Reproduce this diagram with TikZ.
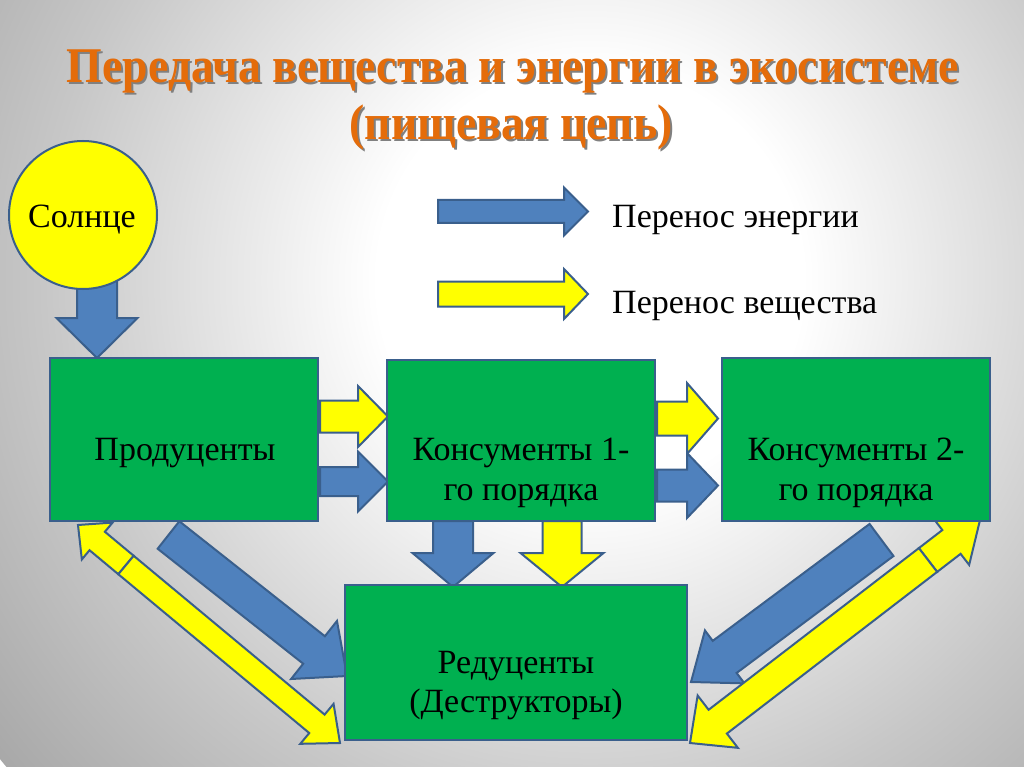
\documentclass[tikz,border=0pt]{standalone}
\usepackage{fontspec}
\setmainfont{Liberation Serif}
\usetikzlibrary{calc}
\pgfdeclarelayer{bg}
\pgfdeclarelayer{arrowlayer}
\pgfsetlayers{bg,arrowlayer,main}
\definecolor{bfill}{HTML}{4F81BD}
\definecolor{edge}{HTML}{3A5F8C}
\definecolor{yfill}{HTML}{FFFF00}
\definecolor{gfill}{HTML}{00B050}
\definecolor{torange}{HTML}{E46C0A}
\pgfdeclareradialshading{bgshade}{\pgfpoint{0bp}{0bp}}{color(0bp)=(white); color(7bp)=(white); color(18bp)=(black!22); color(32bp)=(black!46); color(50bp)=(black!62)}
% #1 style, #2 start, #3 tip, #4 shaft half width, #5 head half width, #6 head length
\newcommand\fatarrow[6]{%
  \coordinate (fa-h) at ($(#3)!#6!(#2)$);
  \draw[#1] ($(#2)!#4!90:(#3)$) -- ($(fa-h)!#4!90:(#3)$) -- ($(fa-h)!#5!90:(#3)$) -- (#3)
    -- ($(fa-h)!#5!-90:(#3)$) -- ($(fa-h)!#4!-90:(#3)$) -- ($(#2)!#4!-90:(#3)$) -- cycle;
}
\newcommand\ttltext[1]{\scalebox{0.915}[1]{#1}}
\tikzset{
  box/.style={draw=edge, fill=gfill, line width=2pt, inner sep=0pt},
  sunshape/.style={circle, draw=edge, fill=yfill, line width=2pt, inner sep=0pt, minimum size=148pt},
  lbl/.style={font=\fontsize{34}{40}\selectfont, anchor=base, inner sep=0pt, text=black},
  ttl/.style={font=\fontsize{50}{56}\selectfont\bfseries, anchor=base, inner sep=0pt},
  blue arrow/.style={fill=bfill, draw=edge, line width=2pt, line join=miter},
  yellow arrow/.style={fill=yfill, draw=edge, line width=2pt, line join=miter},
}
\begin{document}
\begin{tikzpicture}[x=1pt,y=-1pt]
\useasboundingbox (0,0) rectangle (1024,767);
\begin{pgfonlayer}{bg}
  \begin{scope}
    \clip (0,0) rectangle (1024,767);
    \shade[shading=bgshade] (590,280) circle (760pt);
  \end{scope}
\end{pgfonlayer}

% title
\node[ttl, text=black!50] (t1s) at (515,85) {\ttltext{Передача вещества и энергии в экосистеме}};
\node[ttl, text=torange] (t1) at (513,83) {\ttltext{Передача вещества и энергии в экосистеме}};
\node[ttl, text=black!50] (t2s) at (513,142) {\ttltext{(пищевая цепь)}};
\node[ttl, text=torange] (t2) at (511,140) {\ttltext{(пищевая цепь)}};

% nodes
\node[sunshape] (sun) at (83,215) {};
\node[lbl] (sunt) at (82,228) {Солнце};
\node[box, minimum width=268pt, minimum height=163pt] (prod) at (184,439.5) {};
\node[lbl] (prodt) at (185,460) {Продуценты};
\node[box, minimum width=268pt, minimum height=161pt] (cons1) at (521,440.5) {};
\node[lbl] (cons1a) at (521,460) {Консументы 1-};
\node[lbl] (cons1b) at (521,500) {го порядка};
\node[box, minimum width=268pt, minimum height=163pt] (cons2) at (856,439.5) {};
\node[lbl] (cons2a) at (856,460) {Консументы 2-};
\node[lbl] (cons2b) at (856,500) {го порядка};
\node[box, minimum width=342pt, minimum height=155pt] (red) at (516,662.5) {};
\node[lbl] (reda) at (516,673) {Редуценты};
\node[lbl] (redb) at (516,712) {(Деструкторы)};

% legend
\node[lbl, anchor=base west] (leg1) at (612,228) {Перенос энергии};
\node[lbl, anchor=base west] (leg2) at (612,313) {Перенос вещества};

% arrow end points
\coordinate (l1s) at (438,211.5); \coordinate (l1e) at (588,211.5);
\coordinate (l2s) at (438,294); \coordinate (l2e) at (588,294);
\coordinate (sa) at (97,278); \coordinate (sb) at (97,358);
\coordinate (py1) at (320,416.5); \coordinate (py2) at (388,416.5);
\coordinate (pb1) at (320,481.5); \coordinate (pb2) at (388,481.5);
\coordinate (cy1) at (657,418.5); \coordinate (cy2) at (718,418.5);
\coordinate (cb1) at (657,485.5); \coordinate (cb2) at (718,485.5);
\coordinate (db1) at (453,521); \coordinate (db2) at (453,587);
\coordinate (dy1) at (562,521); \coordinate (dy2) at (562,587);
\coordinate (lb1) at (168.5,535); \coordinate (lb2) at (347,676);
\coordinate (lyc) at (126,565); \coordinate (ly1) at (78,525); \coordinate (ly2) at (340,743);
\coordinate (rb1) at (881.5,540); \coordinate (rb2) at (691,682);
\coordinate (ryc) at (928,560); \coordinate (ry1) at (980,520); \coordinate (ry2) at (690,743);

\begin{pgfonlayer}{arrowlayer}
  \fatarrow{blue arrow}{l1s}{l1e}{11.5pt}{24pt}{24pt}
  \fatarrow{yellow arrow}{l2s}{l2e}{12.5pt}{25pt}{24pt}
  \fatarrow{blue arrow}{sa}{sb}{20pt}{40.5pt}{40pt}
  \fatarrow{yellow arrow}{py1}{py2}{16pt}{30.5pt}{30pt}
  \fatarrow{blue arrow}{pb1}{pb2}{14.5pt}{30pt}{30pt}
  \fatarrow{yellow arrow}{cy1}{cy2}{17pt}{35.5pt}{31pt}
  \fatarrow{blue arrow}{cb1}{cb2}{16pt}{32.5pt}{31pt}
  \fatarrow{blue arrow}{db1}{db2}{20pt}{40.5pt}{34pt}
  \fatarrow{yellow arrow}{dy1}{dy2}{19.5pt}{41.5pt}{34pt}
  \fatarrow{blue arrow}{lb1}{lb2}{17.5pt}{37pt}{42pt}
  \fatarrow{yellow arrow}{lyc}{ly1}{12pt}{24pt}{25pt}
  \fatarrow{yellow arrow}{lyc}{ly2}{12pt}{26pt}{30pt}
  \fatarrow{blue arrow}{rb1}{rb2}{20pt}{33pt}{42pt}
  \fatarrow{yellow arrow}{ryc}{ry1}{15pt}{29pt}{36pt}
  \fatarrow{yellow arrow}{ryc}{ry2}{15pt}{33pt}{35pt}
\end{pgfonlayer}
\end{tikzpicture}
\end{document}
